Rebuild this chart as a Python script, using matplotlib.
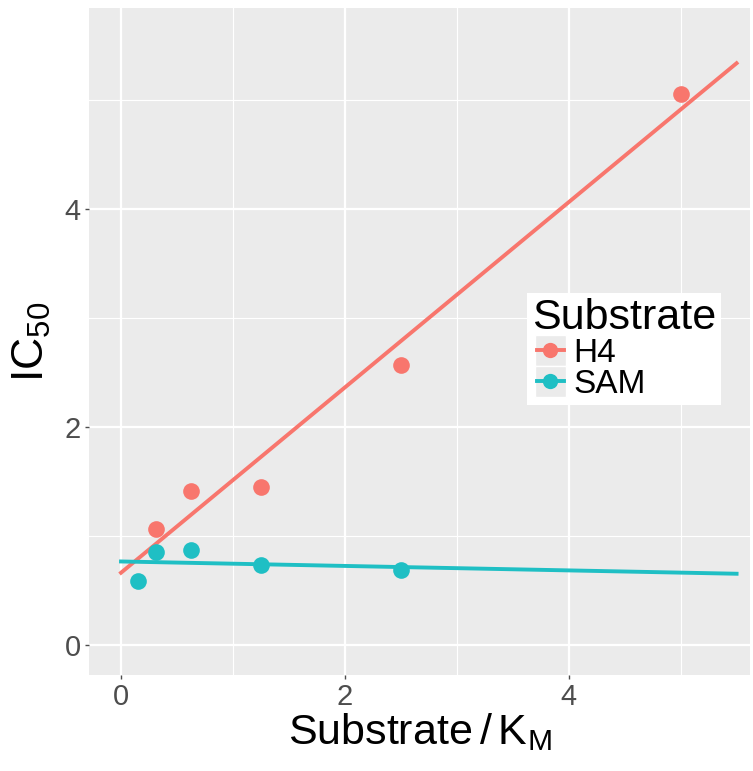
import numpy as np
import matplotlib
matplotlib.use("Agg")
import matplotlib.pyplot as plt
from matplotlib.lines import Line2D
from matplotlib.patches import Rectangle
from matplotlib.legend_handler import HandlerBase

plt.rcParams['font.family'] = ['Liberation Sans', 'DejaVu Sans']
plt.rcParams['mathtext.default'] = 'regular'

# data
h4_x = [0.3125, 0.625, 1.25, 2.5, 5.0]
h4_y = [1.06, 1.41, 1.45, 2.57, 5.05]
sam_x = [0.156, 0.3125, 0.625, 1.25, 2.5]
sam_y = [0.59, 0.85, 0.87, 0.73, 0.69]
groups = ["H4", "SAM"]
colors = {"H4": "#F8766D", "SAM": "#1FBFC4"}
x_ticks = [0, 2, 4]
y_ticks = [0, 2, 4]


class KeyHandler(HandlerBase):
    # ggplot-like key: grey square, short line and a dot
    def create_artists(self, legend, orig, xd, yd, width, height, fontsize, trans):
        c = orig.get_color()
        side = height * 1.3
        x0 = xd + (width - side) / 2
        y0 = -yd + (height - side) / 2
        bg = Rectangle((x0, y0), side, side, facecolor="#EBEBEB", edgecolor="white",
                       lw=1, transform=trans)
        ym = y0 + side / 2
        ln = Line2D([x0 + 1, x0 + side - 1], [ym, ym], color=c, lw=2.8, transform=trans)
        dot = Line2D([x0 + side / 2], [ym], marker="o", ms=11, color=c, mec="none",
                     transform=trans)
        return [bg, ln, dot]


fig = plt.figure(figsize=(7.53, 7.71), dpi=100)
ax = fig.add_axes([89 / 753, 96 / 771, (750 - 89) / 753, (675 - 8) / 771])
ax.set_facecolor("#EBEBEB")
for s in ax.spines.values():
    s.set_visible(False)

ax.set_xlim(-0.286, 5.62)
ax.set_ylim(-0.275, 5.84)

# grid
for v in [1, 3, 5]:
    ax.axvline(v, color="white", lw=0.8, zorder=0)
    ax.axhline(v, color="white", lw=0.8, zorder=0)
for v in [0, 2, 4]:
    ax.axvline(v, color="white", lw=1.6, zorder=0)
    ax.axhline(v, color="white", lw=1.6, zorder=0)

xx = np.array([0, 5.5])
for name, x, y in [("H4", h4_x, h4_y), ("SAM", sam_x, sam_y)]:
    b, a = np.polyfit(x, y, 1)
    ax.plot(xx, a + b * xx, color=colors[name], lw=2.8, zorder=2)
    ax.plot(x, y, "o", ms=12, color=colors[name], mec="none", zorder=3)

ax.set_xticks(x_ticks)
ax.set_yticks(y_ticks)
ax.tick_params(labelsize=21, colors="#4D4D4D", length=3, width=1, pad=3)
for lab in ax.get_xticklabels() + ax.get_yticklabels():
    lab.set_color("#4D4D4D")

ax.set_xlabel("Substrate$\\,/\\,$K$_{M}$", fontsize=31, color="black", labelpad=0)
ax.set_ylabel("IC$_{50}$", fontsize=32, color="black", labelpad=8)

handles = [Line2D([0], [0], color=colors[g]) for g in groups]
leg = ax.legend(handles, groups, title="Substrate", loc="upper left",
                bbox_to_anchor=(527 / 753, 1 - 293 / 771), bbox_transform=fig.transFigure,
                fontsize=24, title_fontsize=31, frameon=True, fancybox=False,
                handlelength=1.1, handletextpad=0.15, labelspacing=0.0,
                borderpad=0.15, borderaxespad=0,
                handler_map={Line2D: KeyHandler()})
leg.get_frame().set_facecolor("white")
leg.get_frame().set_edgecolor("none")
leg.get_frame().set_alpha(1)
leg._legend_box.align = "left"

fig.savefig("out.png", dpi=100)
